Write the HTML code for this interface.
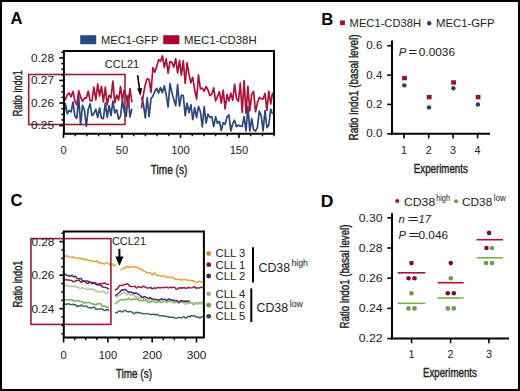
<!DOCTYPE html>
<html><head><meta charset="utf-8"><style>
html,body{margin:0;padding:0;background:#fff;}
svg{display:block;}
text{font-family:"Liberation Sans", sans-serif;}
</style></head><body>
<svg width="520" height="391" viewBox="0 0 520 391">
<rect width="520" height="391" fill="#fff"/>
<text x="10.4" y="23.5" font-size="16.2" font-weight="bold" textLength="12" lengthAdjust="spacingAndGlyphs" fill="#000">A</text>
<rect x="80.2" y="35.2" width="16" height="9" fill="#2b4a80"/>
<text x="101" y="43.7" font-size="11.2" textLength="57.5" lengthAdjust="spacingAndGlyphs" fill="#222">MEC1-GFP</text>
<rect x="163.2" y="35.2" width="16.2" height="9" fill="#a8082f"/>
<text x="184" y="43.7" font-size="11.2" textLength="72.6" lengthAdjust="spacingAndGlyphs" fill="#222">MEC1-CD38H</text>
<rect x="28.7" y="74.5" width="96.3" height="50" fill="none" stroke="#9e1b36" stroke-width="1.6"/>
<polyline points="63.5,117.3 65.4,103.7 67.3,113.9 69.2,110.4 71.1,111.9 73.0,102.0 74.9,116.3 76.8,118.4 78.7,96.6 80.6,124.7 82.5,105.4 84.4,109.7 86.3,126.5 88.2,109.2 90.1,103.9 92.0,115.7 93.9,113.4 95.8,109.1 97.7,117.5 99.6,108.0 101.5,118.1 103.4,118.6 105.3,103.2 107.2,117.3 109.1,105.5 111.0,115.7 112.9,101.2 114.8,112.8 116.7,109.8 118.6,119.2 120.5,116.3 122.4,100.1 124.3,112.0 126.2,116.4 128.1,95.4 130.0,116.9 131.9,108.8" fill="none" stroke="#2c4678" stroke-width="1.7" stroke-linejoin="round"/>
<polyline points="63.5,97.5 65.4,99.5 67.3,94.7 69.2,93.0 71.1,96.8 73.0,91.3 74.9,101.1 76.8,104.8 78.7,90.7 80.6,96.9 82.5,101.3 84.4,98.2 86.3,98.1 88.2,91.2 90.1,100.7 92.0,100.9 93.9,87.1 95.8,100.0 97.7,83.9 99.6,96.0 101.5,86.3 103.4,102.0 105.3,87.2 107.2,104.9 109.1,95.3 111.0,97.8 112.9,81.0 114.8,102.7 116.7,95.1 118.6,100.0 120.5,86.6 122.4,100.4 124.3,90.1 126.2,96.4 128.1,105.8 130.0,88.6 131.9,102.4" fill="none" stroke="#aa123a" stroke-width="1.7" stroke-linejoin="round"/>
<polyline points="141.5,96.6 143.4,104.2 145.3,118.0 147.2,97.8 149.1,116.6 151.0,98.9 152.9,96.0 154.8,91.5 156.7,88.3 158.6,93.1 160.5,87.5 162.4,92.8 164.3,85.8 166.2,94.7 168.1,107.0 170.0,83.7 171.9,92.7 173.8,99.5 175.7,105.7 177.6,84.7 179.5,106.2 181.4,95.2 183.3,95.6 185.2,115.7 187.1,103.2 189.0,112.7 190.9,104.7 192.8,119.6 194.7,107.7 196.6,117.7 198.5,106.4 200.4,111.6 202.3,127.0 204.2,106.7 206.1,123.2 208.0,114.1 209.9,117.4 211.8,116.8 213.7,126.6 215.6,116.8 217.5,123.5 219.4,121.4 221.3,130.5 223.2,122.5 225.1,124.4 227.0,116.9 228.9,114.9 230.8,131.0 232.7,123.7 234.6,120.2 236.5,126.7 238.4,125.1 240.3,126.2 242.2,126.3 244.1,116.7 246.0,131.0 247.9,106.7 249.8,131.0 251.7,118.6 253.6,129.8 255.5,131.0 257.4,127.7 259.3,111.1 261.2,115.7 263.1,130.9 265.0,110.5 266.9,127.7 268.8,125.0 270.7,109.0 272.6,113.8" fill="none" stroke="#2c4678" stroke-width="1.7" stroke-linejoin="round"/>
<polyline points="141.5,108.4 143.4,94.3 145.3,84.7 147.2,78.7 149.1,79.3 151.0,92.5 152.9,67.5 154.8,72.1 156.7,66.6 158.6,59.6 160.5,61.4 162.4,55.8 164.3,67.4 166.2,58.8 168.1,73.1 170.0,61.6 171.9,62.4 173.8,67.1 175.7,58.7 177.6,72.9 179.5,60.3 181.4,75.1 183.3,60.7 185.2,83.5 187.1,62.7 189.0,74.1 190.9,82.8 192.8,77.3 194.7,90.1 196.6,99.2 198.5,74.8 200.4,89.0 202.3,88.1 204.2,91.2 206.1,86.3 208.0,90.0 209.9,95.7 211.8,94.2 213.7,87.8 215.6,100.8 217.5,96.7 219.4,91.7 221.3,103.1 223.2,90.0 225.1,109.0 227.0,94.4 228.9,101.1 230.8,93.2 232.7,100.4 234.6,84.3 236.5,98.3 238.4,101.4 240.3,83.2 242.2,112.4 244.1,80.5 246.0,113.4 247.9,86.3 249.8,110.8 251.7,94.3 253.6,91.5 255.5,111.7 257.4,103.0 259.3,97.3 261.2,98.8 263.1,98.9 265.0,93.5 266.9,110.3 268.8,91.0 270.7,104.0 272.6,92.6" fill="none" stroke="#aa123a" stroke-width="1.7" stroke-linejoin="round"/>
<path d="M63.9,51 H274 V133.8 H63.9 Z" fill="none" stroke="#000" stroke-width="2"/>
<line x1="59.3" y1="57.9" x2="63.5" y2="57.9" stroke="#000" stroke-width="1.6"/>
<text x="54" y="61.699999999999996" font-size="11.3" text-anchor="end" textLength="23" lengthAdjust="spacingAndGlyphs" fill="#222">0.28</text>
<line x1="59.3" y1="80.47000000000003" x2="63.5" y2="80.47000000000003" stroke="#000" stroke-width="1.6"/>
<text x="54" y="84.27000000000002" font-size="11.3" text-anchor="end" textLength="23" lengthAdjust="spacingAndGlyphs" fill="#222">0.27</text>
<line x1="59.3" y1="103.04000000000005" x2="63.5" y2="103.04000000000005" stroke="#000" stroke-width="1.6"/>
<text x="54" y="106.84000000000005" font-size="11.3" text-anchor="end" textLength="23" lengthAdjust="spacingAndGlyphs" fill="#222">0.26</text>
<line x1="59.3" y1="125.61000000000007" x2="63.5" y2="125.61000000000007" stroke="#000" stroke-width="1.6"/>
<text x="54" y="129.41000000000008" font-size="11.3" text-anchor="end" textLength="23" lengthAdjust="spacingAndGlyphs" fill="#222">0.25</text>
<line x1="61.3" y1="63.542500000000004" x2="63.5" y2="63.542500000000004" stroke="#000" stroke-width="1.4"/>
<line x1="61.3" y1="69.185" x2="63.5" y2="69.185" stroke="#000" stroke-width="1.4"/>
<line x1="61.3" y1="74.82750000000001" x2="63.5" y2="74.82750000000001" stroke="#000" stroke-width="1.4"/>
<line x1="61.3" y1="86.11250000000003" x2="63.5" y2="86.11250000000003" stroke="#000" stroke-width="1.4"/>
<line x1="61.3" y1="91.75500000000002" x2="63.5" y2="91.75500000000002" stroke="#000" stroke-width="1.4"/>
<line x1="61.3" y1="97.39750000000004" x2="63.5" y2="97.39750000000004" stroke="#000" stroke-width="1.4"/>
<line x1="61.3" y1="108.68250000000003" x2="63.5" y2="108.68250000000003" stroke="#000" stroke-width="1.4"/>
<line x1="61.3" y1="114.32500000000005" x2="63.5" y2="114.32500000000005" stroke="#000" stroke-width="1.4"/>
<line x1="61.3" y1="119.96750000000006" x2="63.5" y2="119.96750000000006" stroke="#000" stroke-width="1.4"/>
<line x1="61.3" y1="52.25750000000012" x2="63.5" y2="52.25750000000012" stroke="#000" stroke-width="1.4"/>
<line x1="63.5" y1="133.8" x2="63.5" y2="138" stroke="#000" stroke-width="1.6"/>
<line x1="75.2" y1="133.8" x2="75.2" y2="136.3" stroke="#000" stroke-width="1.4"/>
<line x1="86.9" y1="133.8" x2="86.9" y2="136.3" stroke="#000" stroke-width="1.4"/>
<line x1="98.6" y1="133.8" x2="98.6" y2="136.3" stroke="#000" stroke-width="1.4"/>
<line x1="110.3" y1="133.8" x2="110.3" y2="136.3" stroke="#000" stroke-width="1.4"/>
<line x1="122.0" y1="133.8" x2="122.0" y2="138" stroke="#000" stroke-width="1.6"/>
<line x1="133.7" y1="133.8" x2="133.7" y2="136.3" stroke="#000" stroke-width="1.4"/>
<line x1="145.39999999999998" y1="133.8" x2="145.39999999999998" y2="136.3" stroke="#000" stroke-width="1.4"/>
<line x1="157.1" y1="133.8" x2="157.1" y2="136.3" stroke="#000" stroke-width="1.4"/>
<line x1="168.8" y1="133.8" x2="168.8" y2="136.3" stroke="#000" stroke-width="1.4"/>
<line x1="180.5" y1="133.8" x2="180.5" y2="138" stroke="#000" stroke-width="1.6"/>
<line x1="192.2" y1="133.8" x2="192.2" y2="136.3" stroke="#000" stroke-width="1.4"/>
<line x1="203.89999999999998" y1="133.8" x2="203.89999999999998" y2="136.3" stroke="#000" stroke-width="1.4"/>
<line x1="215.6" y1="133.8" x2="215.6" y2="136.3" stroke="#000" stroke-width="1.4"/>
<line x1="227.29999999999998" y1="133.8" x2="227.29999999999998" y2="136.3" stroke="#000" stroke-width="1.4"/>
<line x1="239.0" y1="133.8" x2="239.0" y2="138" stroke="#000" stroke-width="1.6"/>
<line x1="250.7" y1="133.8" x2="250.7" y2="136.3" stroke="#000" stroke-width="1.4"/>
<line x1="262.4" y1="133.8" x2="262.4" y2="136.3" stroke="#000" stroke-width="1.4"/>
<line x1="274.1" y1="133.8" x2="274.1" y2="136.3" stroke="#000" stroke-width="1.4"/>
<text x="63.5" y="153.7" font-size="11.3" text-anchor="middle" textLength="6.2" lengthAdjust="spacingAndGlyphs" fill="#222">0</text>
<text x="122.0" y="153.7" font-size="11.3" text-anchor="middle" textLength="12.4" lengthAdjust="spacingAndGlyphs" fill="#222">50</text>
<text x="180.5" y="153.7" font-size="11.3" text-anchor="middle" textLength="18.7" lengthAdjust="spacingAndGlyphs" fill="#222">100</text>
<text x="239.0" y="153.7" font-size="11.3" text-anchor="middle" textLength="18.7" lengthAdjust="spacingAndGlyphs" fill="#222">150</text>
<text x="150.8" y="173.7" font-size="13.5" textLength="36.5" lengthAdjust="spacingAndGlyphs" fill="#222" stroke="#222" stroke-width="0.4">Time (s)</text>
<text transform="translate(22.4,93.3) rotate(-90)" x="0" y="0" font-size="12.4" text-anchor="middle" textLength="46" lengthAdjust="spacingAndGlyphs" fill="#222" stroke="#222" stroke-width="0.4">Ratio indo1</text>
<text x="104.8" y="67.9" font-size="11" textLength="34.4" lengthAdjust="spacingAndGlyphs" fill="#222">CCL21</text>
<line x1="137.6" y1="75.2" x2="139.6" y2="89.5" stroke="#000" stroke-width="1.6"/>
<path d="M137.2,88.6 L142.3,88.0 L140.4,96 Z" fill="#000"/>
<text x="321.2" y="24.6" font-size="16.8" font-weight="bold" textLength="12" lengthAdjust="spacingAndGlyphs" fill="#000">B</text>
<rect x="340.1" y="20.4" width="4.8" height="4.8" fill="#9a0c30"/>
<text x="349.6" y="26.5" font-size="10.6" textLength="71.4" lengthAdjust="spacingAndGlyphs" fill="#222">MEC1-CD38H</text>
<circle cx="429.2" cy="23.3" r="2.2" fill="#2c3d62"/>
<text x="436" y="26.5" font-size="10.6" textLength="58.6" lengthAdjust="spacingAndGlyphs" fill="#222">MEC1-GFP</text>
<line x1="392" y1="40.6" x2="392" y2="134.8" stroke="#000" stroke-width="2"/>
<line x1="391" y1="133.8" x2="490" y2="133.8" stroke="#000" stroke-width="2"/>
<line x1="387.2" y1="45.750000000000014" x2="392" y2="45.750000000000014" stroke="#000" stroke-width="1.6"/>
<text x="382.3" y="49.350000000000016" font-size="10.6" text-anchor="end" textLength="16" lengthAdjust="spacingAndGlyphs" fill="#222">0.6</text>
<line x1="387.2" y1="75.10000000000001" x2="392" y2="75.10000000000001" stroke="#000" stroke-width="1.6"/>
<text x="382.3" y="78.7" font-size="10.6" text-anchor="end" textLength="16" lengthAdjust="spacingAndGlyphs" fill="#222">0.4</text>
<line x1="387.2" y1="104.45000000000002" x2="392" y2="104.45000000000002" stroke="#000" stroke-width="1.6"/>
<text x="382.3" y="108.05000000000001" font-size="10.6" text-anchor="end" textLength="16" lengthAdjust="spacingAndGlyphs" fill="#222">0.2</text>
<line x1="387.2" y1="133.8" x2="392" y2="133.8" stroke="#000" stroke-width="1.6"/>
<text x="382.3" y="137.4" font-size="10.6" text-anchor="end" textLength="16" lengthAdjust="spacingAndGlyphs" fill="#222">0.0</text>
<line x1="404" y1="133.8" x2="404" y2="138.4" stroke="#000" stroke-width="1.6"/>
<text x="404" y="153.7" font-size="11" text-anchor="middle" textLength="6" lengthAdjust="spacingAndGlyphs" fill="#222">1</text>
<line x1="428.7" y1="133.8" x2="428.7" y2="138.4" stroke="#000" stroke-width="1.6"/>
<text x="428.7" y="153.7" font-size="11" text-anchor="middle" textLength="6" lengthAdjust="spacingAndGlyphs" fill="#222">2</text>
<line x1="453.1" y1="133.8" x2="453.1" y2="138.4" stroke="#000" stroke-width="1.6"/>
<text x="453.1" y="153.7" font-size="11" text-anchor="middle" textLength="6" lengthAdjust="spacingAndGlyphs" fill="#222">3</text>
<line x1="477.6" y1="133.8" x2="477.6" y2="138.4" stroke="#000" stroke-width="1.6"/>
<text x="477.6" y="153.7" font-size="11" text-anchor="middle" textLength="6" lengthAdjust="spacingAndGlyphs" fill="#222">4</text>
<text x="413.8" y="172.9" font-size="12.6" textLength="54" lengthAdjust="spacingAndGlyphs" fill="#222" stroke="#222" stroke-width="0.4">Experiments</text>
<text transform="translate(357.9,87.5) rotate(-90)" x="0" y="0" font-size="12.4" text-anchor="middle" textLength="106" lengthAdjust="spacingAndGlyphs" fill="#222" stroke="#222" stroke-width="0.4">Ratio indo1 (basal level)</text>
<text x="398.8" y="55.8" font-size="11.4" fill="#222"><tspan font-style="italic">P</tspan><tspan x="408.5" textLength="8.6" lengthAdjust="spacingAndGlyphs">=</tspan><tspan x="418.8" textLength="36.2" lengthAdjust="spacingAndGlyphs">0.0036</tspan></text>
<rect x="402.1" y="75.83500000000001" width="4.8" height="4.4" fill="#9a0c30"/>
<circle cx="404.3" cy="85.3725" r="2.2" fill="#2c3d62"/>
<rect x="426.8" y="94.91250000000001" width="4.8" height="4.4" fill="#9a0c30"/>
<circle cx="429.0" cy="107.38500000000002" r="2.2" fill="#2c3d62"/>
<rect x="451.20000000000005" y="80.23750000000001" width="4.8" height="4.4" fill="#9a0c30"/>
<circle cx="453.40000000000003" cy="88.3075" r="2.2" fill="#2c3d62"/>
<rect x="475.70000000000005" y="94.91250000000001" width="4.8" height="4.4" fill="#9a0c30"/>
<circle cx="477.90000000000003" cy="104.45000000000002" r="2.2" fill="#2c3d62"/>
<text x="10.6" y="206.2" font-size="16.2" font-weight="bold" textLength="12" lengthAdjust="spacingAndGlyphs" fill="#000">C</text>
<polyline points="64.0,299.8 65.0,300.0 66.0,299.9 67.0,300.0 68.0,299.9 69.0,299.3 70.0,299.7 71.0,300.1 72.0,299.6 73.0,300.4 74.0,301.1 75.0,301.2 76.0,301.0 77.0,300.6 78.0,300.8 79.0,300.8 80.0,301.4 81.0,301.6 82.0,301.8 83.0,302.4 84.0,303.2 85.0,302.6 86.0,302.3 87.0,302.9 88.0,302.8 89.0,302.4 90.0,302.4 91.0,303.6 92.0,304.0 93.0,303.9 94.0,304.0 95.0,304.7 96.0,305.0 97.0,303.8 98.0,303.8 99.0,304.1 100.0,303.2 101.0,304.1 102.0,306.2 103.0,306.7 104.0,305.8 105.0,305.6 106.0,306.8 107.0,307.5 108.0,307.3 109.0,307.4" fill="none" stroke="#72b050" stroke-width="1.45" stroke-linejoin="round"/>
<polyline points="64.0,303.5 65.0,304.0 66.0,304.4 67.0,304.3 68.0,303.7 69.0,304.0 70.0,304.3 71.0,304.7 72.0,304.6 73.0,304.2 74.0,304.9 75.0,304.5 76.0,305.4 77.0,306.7 78.0,305.9 79.0,305.8 80.0,306.3 81.0,305.0 82.0,305.1 83.0,306.3 84.0,306.4 85.0,306.1 86.0,306.1 87.0,306.6 88.0,307.4 89.0,307.8 90.0,307.4 91.0,308.1 92.0,308.0 93.0,307.4 94.0,307.0 95.0,308.0 96.0,309.3 97.0,309.2 98.0,309.2 99.0,309.0 100.0,309.0 101.0,309.0 102.0,309.0 103.0,309.3 104.0,310.2 105.0,310.5 106.0,310.0 107.0,309.7 108.0,309.6 109.0,310.7" fill="none" stroke="#3a6450" stroke-width="1.45" stroke-linejoin="round"/>
<polyline points="64.0,285.5 65.0,285.7 66.0,285.5 67.0,285.1 68.0,285.4 69.0,286.4 70.0,286.4 71.0,286.1 72.0,286.3 73.0,286.6 74.0,286.2 75.0,286.2 76.0,286.7 77.0,287.3 78.0,287.5 79.0,287.5 80.0,288.6 81.0,288.4 82.0,287.7 83.0,288.0 84.0,288.4 85.0,288.1 86.0,288.4 87.0,289.9 88.0,289.7 89.0,289.0 90.0,288.8 91.0,289.3 92.0,289.4 93.0,288.9 94.0,290.2 95.0,290.5 96.0,290.6 97.0,291.8 98.0,291.7 99.0,291.4 100.0,292.3 101.0,292.2 102.0,291.3 103.0,291.0 104.0,291.5 105.0,292.9 106.0,293.5 107.0,292.6 108.0,292.0 109.0,292.4" fill="none" stroke="#b9bfa0" stroke-width="1.45" stroke-linejoin="round"/>
<polyline points="64.0,279.6 65.0,279.7 66.0,279.8 67.0,280.1 68.0,280.0 69.0,280.0 70.0,280.3 71.0,280.4 72.0,280.7 73.0,281.6 74.0,281.8 75.0,281.2 76.0,280.3 77.0,280.6 78.0,280.6 79.0,280.0 80.0,281.3 81.0,282.3 82.0,282.0 83.0,281.1 84.0,281.1 85.0,281.7 86.0,282.3 87.0,283.6 88.0,283.5 89.0,282.3 90.0,281.8 91.0,282.2 92.0,282.7 93.0,282.4 94.0,282.6 95.0,282.7 96.0,283.2 97.0,284.2 98.0,284.3 99.0,283.7 100.0,283.5 101.0,283.8 102.0,283.5 103.0,283.5 104.0,283.2 105.0,282.8 106.0,283.8 107.0,284.4 108.0,284.2 109.0,284.8" fill="none" stroke="#9a1840" stroke-width="1.45" stroke-linejoin="round"/>
<polyline points="64.0,274.1 65.0,273.9 66.0,274.9 67.0,275.6 68.0,275.5 69.0,275.9 70.0,276.4 71.0,275.6 72.0,275.3 73.0,276.3 74.0,277.1 75.0,276.1 76.0,276.9 77.0,278.3 78.0,278.7 79.0,278.7 80.0,278.4 81.0,278.5 82.0,280.1 83.0,280.9 84.0,280.9 85.0,281.1 86.0,280.9 87.0,280.9 88.0,281.0 89.0,282.4 90.0,282.4 91.0,282.8 92.0,283.8 93.0,283.3 94.0,283.3 95.0,283.9 96.0,284.4 97.0,284.7 98.0,284.7 99.0,285.2 100.0,285.4 101.0,285.4 102.0,286.1 103.0,287.4 104.0,287.1 105.0,287.1 106.0,287.8 107.0,287.7 108.0,288.7 109.0,289.2" fill="none" stroke="#4a2a66" stroke-width="1.45" stroke-linejoin="round"/>
<polyline points="64.0,256.2 65.0,256.1 66.0,255.9 67.0,256.3 68.0,256.0 69.0,256.6 70.0,257.0 71.0,257.3 72.0,257.5 73.0,257.0 74.0,257.2 75.0,257.9 76.0,258.5 77.0,258.3 78.0,258.1 79.0,258.0 80.0,258.5 81.0,259.0 82.0,258.1 83.0,258.8 84.0,260.2 85.0,259.8 86.0,259.1 87.0,259.6 88.0,259.8 89.0,260.4 90.0,260.7 91.0,260.4 92.0,261.2 93.0,261.4 94.0,261.5 95.0,261.6 96.0,261.0 97.0,260.8 98.0,262.3 99.0,263.1 100.0,262.6 101.0,262.9 102.0,263.0 103.0,263.3 104.0,264.2 105.0,263.9 106.0,262.6 107.0,262.8 108.0,263.0 109.0,264.0 110.0,265.1 111.0,264.6 112.0,263.9 113.0,264.4 114.0,265.9 115.0,265.1 116.0,265.0" fill="none" stroke="#e0a040" stroke-width="1.45" stroke-linejoin="round"/>
<polyline points="115.0,312.6 116.0,312.8 117.0,312.5 118.0,311.7 119.0,311.3 120.0,310.7 121.0,311.6 122.0,312.1 123.0,311.5 124.0,310.9 125.0,310.3 126.0,310.6 127.0,311.5 128.0,311.8 129.0,311.8 130.0,311.5 131.0,311.6 132.0,312.2 133.0,312.9 134.0,313.8 135.0,313.3 136.0,312.3 137.0,312.5 138.0,312.7 139.0,312.5 140.0,312.9 141.0,312.9 142.0,313.3 143.0,313.8 144.0,313.8 145.0,313.9 146.0,313.6 147.0,313.4 148.0,313.8 149.0,314.1 150.0,314.4 151.0,314.7 152.0,314.2 153.0,314.4 154.0,314.5 155.0,314.3 156.0,314.9 157.0,314.4 158.0,314.7 159.0,315.8 160.0,315.8 161.0,315.7 162.0,315.8 163.0,315.7 164.0,315.9 165.0,316.2 166.0,316.5 167.0,316.4 168.0,316.6 169.0,317.3 170.0,317.3 171.0,317.2 172.0,317.6 173.0,317.2 174.0,317.3 175.0,318.3 176.0,318.1 177.0,318.1 178.0,317.6 179.0,317.3 180.0,317.7 181.0,317.9 182.0,317.7 183.0,316.8 184.0,316.8 185.0,317.9 186.0,318.0 187.0,317.5 188.0,316.3 189.0,316.5 190.0,317.0 191.0,315.6 192.0,315.8 193.0,316.2 194.0,315.5 195.0,315.9 196.0,317.0 197.0,317.1 198.0,316.7 199.0,317.6 200.0,318.1 201.0,317.3 202.0,316.6 203.0,316.1" fill="none" stroke="#3a6450" stroke-width="1.45" stroke-linejoin="round"/>
<polyline points="115.0,303.9 116.0,303.1 117.0,302.5 118.0,301.4 119.0,300.7 120.0,300.1 121.0,299.5 122.0,299.9 123.0,300.0 124.0,300.0 125.0,299.7 126.0,299.2 127.0,299.3 128.0,299.1 129.0,298.3 130.0,299.1 131.0,299.8 132.0,299.8 133.0,299.2 134.0,299.0 135.0,299.5 136.0,299.4 137.0,298.8 138.0,299.1 139.0,300.5 140.0,300.9 141.0,300.4 142.0,300.3 143.0,300.9 144.0,299.8 145.0,299.6 146.0,301.0 147.0,301.5 148.0,302.0 149.0,302.3 150.0,301.8 151.0,301.5 152.0,301.7 153.0,301.4 154.0,301.1 155.0,301.8 156.0,302.7 157.0,302.2 158.0,301.4 159.0,301.6 160.0,302.3 161.0,302.2 162.0,302.3 163.0,301.9 164.0,301.3 165.0,301.6 166.0,302.1 167.0,302.7 168.0,301.7 169.0,300.9 170.0,301.8 171.0,301.9 172.0,301.2 173.0,301.9 174.0,302.8 175.0,302.6 176.0,302.2 177.0,302.5 178.0,302.7 179.0,302.7 180.0,302.5 181.0,301.7 182.0,302.2 183.0,302.3 184.0,302.5 185.0,302.9 186.0,302.3 187.0,302.2 188.0,302.5 189.0,302.9 190.0,302.8 191.0,302.2 192.0,303.0 193.0,304.2 194.0,304.6 195.0,303.7 196.0,302.9 197.0,303.6 198.0,303.5 199.0,302.4 200.0,302.6 201.0,303.2 202.0,302.8 203.0,301.9" fill="none" stroke="#72b050" stroke-width="1.45" stroke-linejoin="round"/>
<polyline points="115.0,297.4 116.0,297.0 117.0,296.7 118.0,295.7 119.0,295.5 120.0,295.2 121.0,294.3 122.0,293.6 123.0,292.7 124.0,292.6 125.0,292.8 126.0,293.7 127.0,294.4 128.0,293.9 129.0,294.0 130.0,294.5 131.0,295.2 132.0,294.9 133.0,294.4 134.0,295.2 135.0,296.9 136.0,297.8 137.0,296.9 138.0,297.0 139.0,298.2 140.0,298.0 141.0,297.2 142.0,298.1 143.0,298.7 144.0,298.7 145.0,298.5 146.0,299.3 147.0,300.5 148.0,300.2 149.0,300.0 150.0,299.1 151.0,299.2 152.0,300.1 153.0,300.1 154.0,300.5 155.0,300.3 156.0,299.4 157.0,299.8 158.0,300.3 159.0,300.1 160.0,300.2 161.0,300.3 162.0,299.7 163.0,300.4 164.0,301.6 165.0,301.6 166.0,302.5 167.0,302.1 168.0,300.6 169.0,300.3 170.0,300.6 171.0,300.9 172.0,301.5 173.0,301.0 174.0,301.2 175.0,301.5 176.0,301.5 177.0,302.2 178.0,302.0 179.0,302.1 180.0,302.1 181.0,302.0 182.0,301.5 183.0,301.8 184.0,303.4 185.0,304.3 186.0,304.1 187.0,303.6 188.0,302.8 189.0,303.2 190.0,303.5 191.0,302.9 192.0,302.8 193.0,302.9 194.0,302.9 195.0,302.9 196.0,302.7 197.0,302.6 198.0,304.1 199.0,304.2 200.0,303.2 201.0,303.5 202.0,304.0 203.0,303.3" fill="none" stroke="#b9bfa0" stroke-width="1.45" stroke-linejoin="round"/>
<polyline points="115.0,295.6 116.0,295.2 117.0,294.6 118.0,293.4 119.0,293.1 120.0,292.0 121.0,290.6 122.0,289.8 123.0,290.0 124.0,289.8 125.0,289.2 126.0,290.1 127.0,291.0 128.0,291.8 129.0,292.5 130.0,291.9 131.0,291.9 132.0,292.8 133.0,292.6 134.0,293.3 135.0,293.6 136.0,292.9 137.0,293.5 138.0,294.2 139.0,294.4 140.0,295.6 141.0,296.4 142.0,297.3 143.0,297.5 144.0,296.6 145.0,296.7 146.0,297.4 147.0,297.6 148.0,298.2 149.0,298.5 150.0,297.6 151.0,298.2 152.0,299.1 153.0,299.0 154.0,299.2 155.0,299.3 156.0,299.4 157.0,299.7 158.0,299.9 159.0,299.6 160.0,299.7 161.0,299.0 162.0,298.8 163.0,299.4 164.0,299.6 165.0,299.2 166.0,299.9 167.0,300.6 168.0,299.5 169.0,298.8 170.0,299.3 171.0,300.1 172.0,300.0 173.0,300.1 174.0,300.3 175.0,300.5 176.0,300.6 177.0,300.4 178.0,301.2 179.0,302.4 180.0,301.7 181.0,300.5 182.0,300.6 183.0,301.3 184.0,301.2 185.0,300.8 186.0,301.3 187.0,301.2 188.0,300.9 189.0,301.2 190.0,300.8" fill="none" stroke="#4a2a66" stroke-width="1.45" stroke-linejoin="round"/>
<polyline points="115.0,290.4 116.0,289.3 117.0,289.0 118.0,288.1 119.0,286.4 120.0,285.3 121.0,285.4 122.0,285.7 123.0,285.2 124.0,284.4 125.0,284.5 126.0,284.5 127.0,283.6 128.0,283.9 129.0,285.4 130.0,286.2 131.0,286.5 132.0,286.6 133.0,286.6 134.0,286.6 135.0,286.2 136.0,287.6 137.0,288.0 138.0,286.8 139.0,286.6 140.0,287.0 141.0,287.6 142.0,287.3 143.0,286.1 144.0,286.3 145.0,287.1 146.0,287.4 147.0,288.0 148.0,288.1 149.0,288.0 150.0,287.5 151.0,287.5 152.0,288.9 153.0,288.8 154.0,288.0 155.0,287.8 156.0,288.4 157.0,288.0 158.0,287.2 159.0,287.7 160.0,288.1 161.0,287.7 162.0,287.5 163.0,287.6 164.0,287.5 165.0,287.6 166.0,287.1 167.0,287.1 168.0,288.0 169.0,287.6 170.0,287.1 171.0,287.8 172.0,287.4 173.0,287.2 174.0,287.2 175.0,287.6 176.0,289.1 177.0,289.4 178.0,288.4 179.0,287.8 180.0,288.0 181.0,287.7 182.0,288.3 183.0,287.7 184.0,287.5 185.0,288.0 186.0,288.2 187.0,288.3 188.0,287.4 189.0,287.4 190.0,288.0 191.0,287.9 192.0,287.8 193.0,287.6 194.0,286.5 195.0,287.1 196.0,288.3 197.0,288.0 198.0,287.7 199.0,288.1 200.0,287.8 201.0,287.1 202.0,287.2 203.0,288.0" fill="none" stroke="#9a1840" stroke-width="1.45" stroke-linejoin="round"/>
<polyline points="120.5,269.4 121.5,269.5 122.5,269.3 123.5,267.9 124.5,268.2 125.5,268.2 126.5,266.6 127.5,266.3 128.5,267.2 129.5,267.8 130.5,267.1 131.5,266.7 132.5,267.2 133.5,266.7 134.5,266.7 135.5,267.3 136.5,267.3 137.5,267.5 138.5,268.2 139.5,268.8 140.5,268.9 141.5,269.1 142.5,270.2 143.5,270.9 144.5,271.2 145.5,272.0 146.5,272.3 147.5,273.1 148.5,272.9 149.5,272.7 150.5,273.2 151.5,274.0 152.5,275.1 153.5,273.7 154.5,272.9 155.5,274.3 156.5,275.3 157.5,275.6 158.5,275.5 159.5,275.6 160.5,276.2 161.5,276.2 162.5,276.5 163.5,275.8 164.5,275.9 165.5,276.6 166.5,277.0 167.5,277.5 168.5,276.9 169.5,277.4 170.5,277.6 171.5,277.3 172.5,277.2 173.5,277.8 174.5,278.9 175.5,279.5 176.5,279.3 177.5,279.5 178.5,279.6 179.5,279.2 180.5,279.6 181.5,280.2 182.5,279.9 183.5,279.5 184.5,279.6 185.5,279.9 186.5,279.7 187.5,280.2 188.5,280.5 189.5,280.4 190.5,280.3 191.5,280.4 192.5,281.0 193.5,280.8 194.5,281.6 195.5,282.1 196.5,282.1 197.5,282.5 198.5,281.6 199.5,281.1 200.5,281.7 201.5,282.0 202.5,282.0" fill="none" stroke="#e0a040" stroke-width="1.45" stroke-linejoin="round"/>
<rect x="31" y="238.6" width="79.9" height="85.8" fill="none" stroke="#9e1b36" stroke-width="1.6"/>
<path d="M63.8,231.6 H203.9 V337.6 H63.8 Z" fill="none" stroke="#000" stroke-width="2"/>
<line x1="59.4" y1="241.6" x2="63.8" y2="241.6" stroke="#000" stroke-width="1.6"/>
<text x="54.4" y="245.79999999999998" font-size="10.8" text-anchor="end" textLength="23" lengthAdjust="spacingAndGlyphs" fill="#222">0.28</text>
<line x1="59.4" y1="275.15000000000003" x2="63.8" y2="275.15000000000003" stroke="#000" stroke-width="1.6"/>
<text x="54.4" y="279.35" font-size="10.8" text-anchor="end" textLength="23" lengthAdjust="spacingAndGlyphs" fill="#222">0.26</text>
<line x1="59.4" y1="308.70000000000005" x2="63.8" y2="308.70000000000005" stroke="#000" stroke-width="1.6"/>
<text x="54.4" y="312.90000000000003" font-size="10.8" text-anchor="end" textLength="23" lengthAdjust="spacingAndGlyphs" fill="#222">0.24</text>
<line x1="61.3" y1="233.21249999999998" x2="63.8" y2="233.21249999999998" stroke="#000" stroke-width="1.4"/>
<line x1="61.3" y1="249.9875" x2="63.8" y2="249.9875" stroke="#000" stroke-width="1.4"/>
<line x1="61.3" y1="258.375" x2="63.8" y2="258.375" stroke="#000" stroke-width="1.4"/>
<line x1="61.3" y1="266.7625" x2="63.8" y2="266.7625" stroke="#000" stroke-width="1.4"/>
<line x1="61.3" y1="283.5375" x2="63.8" y2="283.5375" stroke="#000" stroke-width="1.4"/>
<line x1="61.3" y1="291.925" x2="63.8" y2="291.925" stroke="#000" stroke-width="1.4"/>
<line x1="61.3" y1="300.3125" x2="63.8" y2="300.3125" stroke="#000" stroke-width="1.4"/>
<line x1="61.3" y1="317.0875" x2="63.8" y2="317.0875" stroke="#000" stroke-width="1.4"/>
<line x1="61.3" y1="325.47499999999997" x2="63.8" y2="325.47499999999997" stroke="#000" stroke-width="1.4"/>
<line x1="61.3" y1="333.86249999999995" x2="63.8" y2="333.86249999999995" stroke="#000" stroke-width="1.4"/>
<line x1="63.6" y1="337.6" x2="63.6" y2="342.5" stroke="#000" stroke-width="1.6"/>
<line x1="74.675" y1="337.6" x2="74.675" y2="340.2" stroke="#000" stroke-width="1.4"/>
<line x1="85.75" y1="337.6" x2="85.75" y2="340.2" stroke="#000" stroke-width="1.4"/>
<line x1="96.825" y1="337.6" x2="96.825" y2="340.2" stroke="#000" stroke-width="1.4"/>
<line x1="107.9" y1="337.6" x2="107.9" y2="342.5" stroke="#000" stroke-width="1.6"/>
<line x1="118.975" y1="337.6" x2="118.975" y2="340.2" stroke="#000" stroke-width="1.4"/>
<line x1="130.05" y1="337.6" x2="130.05" y2="340.2" stroke="#000" stroke-width="1.4"/>
<line x1="141.125" y1="337.6" x2="141.125" y2="340.2" stroke="#000" stroke-width="1.4"/>
<line x1="152.2" y1="337.6" x2="152.2" y2="342.5" stroke="#000" stroke-width="1.6"/>
<line x1="163.275" y1="337.6" x2="163.275" y2="340.2" stroke="#000" stroke-width="1.4"/>
<line x1="174.35" y1="337.6" x2="174.35" y2="340.2" stroke="#000" stroke-width="1.4"/>
<line x1="185.425" y1="337.6" x2="185.425" y2="340.2" stroke="#000" stroke-width="1.4"/>
<line x1="196.5" y1="337.6" x2="196.5" y2="342.5" stroke="#000" stroke-width="1.6"/>
<text x="63.6" y="358.7" font-size="11.2" text-anchor="middle" textLength="6.2" lengthAdjust="spacingAndGlyphs" fill="#222">0</text>
<text x="107.9" y="358.7" font-size="11.2" text-anchor="middle" textLength="18.4" lengthAdjust="spacingAndGlyphs" fill="#222">100</text>
<text x="152.2" y="358.7" font-size="11.2" text-anchor="middle" textLength="19.7" lengthAdjust="spacingAndGlyphs" fill="#222">200</text>
<text x="196.5" y="358.7" font-size="11.2" text-anchor="middle" textLength="19.7" lengthAdjust="spacingAndGlyphs" fill="#222">300</text>
<text x="115.7" y="377.6" font-size="13.3" textLength="36.3" lengthAdjust="spacingAndGlyphs" fill="#222" stroke="#222" stroke-width="0.4">Time (s)</text>
<text transform="translate(22.4,284) rotate(-90)" x="0" y="0" font-size="12.4" text-anchor="middle" textLength="47" lengthAdjust="spacingAndGlyphs" fill="#222" stroke="#222" stroke-width="0.4">Ratio indo1</text>
<text x="111.9" y="244.7" font-size="11" textLength="34.1" lengthAdjust="spacingAndGlyphs" fill="#222">CCL21</text>
<line x1="119.4" y1="248.8" x2="119.4" y2="258" stroke="#000" stroke-width="2"/>
<path d="M115.4,256.6 L123.5,256.6 L119.4,266 Z" fill="#000"/>
<circle cx="208.7" cy="253.5" r="2.4" fill="#cf8c30"/>
<text x="215.6" y="257.4" font-size="11.2" textLength="29.6" lengthAdjust="spacingAndGlyphs" fill="#222">CLL 3</text>
<circle cx="208.7" cy="264.7" r="2.4" fill="#7a1530"/>
<text x="215.6" y="268.59999999999997" font-size="11.2" textLength="29.6" lengthAdjust="spacingAndGlyphs" fill="#222">CLL 1</text>
<circle cx="208.7" cy="276" r="2.4" fill="#3a2550"/>
<text x="215.6" y="279.9" font-size="11.2" textLength="29.6" lengthAdjust="spacingAndGlyphs" fill="#222">CLL 2</text>
<circle cx="208.7" cy="293.8" r="2.4" fill="#a5ab95"/>
<text x="215.6" y="297.7" font-size="11.2" textLength="29.6" lengthAdjust="spacingAndGlyphs" fill="#222">CLL 4</text>
<circle cx="208.7" cy="305.2" r="2.4" fill="#6a9a4a"/>
<text x="215.6" y="309.09999999999997" font-size="11.2" textLength="29.6" lengthAdjust="spacingAndGlyphs" fill="#222">CLL 6</text>
<circle cx="208.7" cy="316.3" r="2.4" fill="#2e4a3c"/>
<text x="215.6" y="320.2" font-size="11.2" textLength="29.6" lengthAdjust="spacingAndGlyphs" fill="#222">CLL 5</text>
<line x1="253" y1="247.2" x2="253" y2="282.4" stroke="#000" stroke-width="2"/>
<line x1="251.3" y1="288.4" x2="251.3" y2="322" stroke="#000" stroke-width="2"/>
<text x="258.5" y="271.6" font-size="12.2" textLength="31.6" lengthAdjust="spacingAndGlyphs" fill="#222">CD38</text>
<text x="291.4" y="266.4" font-size="8.6" textLength="16.6" lengthAdjust="spacingAndGlyphs" fill="#222">high</text>
<text x="256.5" y="311.6" font-size="12.2" textLength="31.6" lengthAdjust="spacingAndGlyphs" fill="#222">CD38</text>
<text x="289.7" y="306.6" font-size="8.6" textLength="13.2" lengthAdjust="spacingAndGlyphs" fill="#222">low</text>
<text x="320.8" y="206.5" font-size="16.8" font-weight="bold" textLength="12.6" lengthAdjust="spacingAndGlyphs" fill="#000">D</text>
<circle cx="397.3" cy="201" r="2" fill="#8a1030"/>
<text x="404" y="205.6" font-size="11.2" textLength="31.2" lengthAdjust="spacingAndGlyphs" fill="#222">CD38</text>
<text x="436.2" y="200.6" font-size="8.2" textLength="13.8" lengthAdjust="spacingAndGlyphs" fill="#222">high</text>
<circle cx="456.1" cy="201.3" r="2" fill="#6ea04a"/>
<text x="462.1" y="205.6" font-size="11.2" textLength="30.1" lengthAdjust="spacingAndGlyphs" fill="#222">CD38</text>
<text x="493.8" y="200.6" font-size="8.2" textLength="12.1" lengthAdjust="spacingAndGlyphs" fill="#222">low</text>
<line x1="392" y1="213" x2="392" y2="339.6" stroke="#000" stroke-width="2"/>
<line x1="391" y1="338.6" x2="509" y2="338.6" stroke="#000" stroke-width="2"/>
<line x1="387.3" y1="217.8" x2="392" y2="217.8" stroke="#000" stroke-width="1.6"/>
<text x="382.6" y="221.60000000000002" font-size="11" text-anchor="end" textLength="23.8" lengthAdjust="spacingAndGlyphs" fill="#222">0.30</text>
<line x1="387.3" y1="247.99999999999994" x2="392" y2="247.99999999999994" stroke="#000" stroke-width="1.6"/>
<text x="382.6" y="251.79999999999995" font-size="11" text-anchor="end" textLength="23.8" lengthAdjust="spacingAndGlyphs" fill="#222">0.28</text>
<line x1="387.3" y1="278.2" x2="392" y2="278.2" stroke="#000" stroke-width="1.6"/>
<text x="382.6" y="282.0" font-size="11" text-anchor="end" textLength="23.8" lengthAdjust="spacingAndGlyphs" fill="#222">0.26</text>
<line x1="387.3" y1="308.4" x2="392" y2="308.4" stroke="#000" stroke-width="1.6"/>
<text x="382.6" y="312.2" font-size="11" text-anchor="end" textLength="23.8" lengthAdjust="spacingAndGlyphs" fill="#222">0.24</text>
<line x1="387.3" y1="338.59999999999997" x2="392" y2="338.59999999999997" stroke="#000" stroke-width="1.6"/>
<text x="382.6" y="342.4" font-size="11" text-anchor="end" textLength="23.8" lengthAdjust="spacingAndGlyphs" fill="#222">0.22</text>
<line x1="411.6" y1="338.6" x2="411.6" y2="343.2" stroke="#000" stroke-width="1.6"/>
<text x="411.6" y="358" font-size="11" text-anchor="middle" textLength="6" lengthAdjust="spacingAndGlyphs" fill="#222">1</text>
<line x1="450.6" y1="338.6" x2="450.6" y2="343.2" stroke="#000" stroke-width="1.6"/>
<text x="450.6" y="358" font-size="11" text-anchor="middle" textLength="6" lengthAdjust="spacingAndGlyphs" fill="#222">2</text>
<line x1="488.9" y1="338.6" x2="488.9" y2="343.2" stroke="#000" stroke-width="1.6"/>
<text x="488.9" y="358" font-size="11" text-anchor="middle" textLength="6" lengthAdjust="spacingAndGlyphs" fill="#222">3</text>
<text x="423" y="377.1" font-size="12.6" textLength="53.8" lengthAdjust="spacingAndGlyphs" fill="#222" stroke="#222" stroke-width="0.4">Experiments</text>
<text transform="translate(349.3,276.5) rotate(-90)" x="0" y="0" font-size="12.4" text-anchor="middle" textLength="104" lengthAdjust="spacingAndGlyphs" fill="#222" stroke="#222" stroke-width="0.4">Ratio indo1 (basal level)</text>
<text x="398.4" y="222.9" font-size="11.2" fill="#222" font-style="italic"><tspan>n</tspan><tspan x="407.4" font-style="normal" textLength="11" lengthAdjust="spacingAndGlyphs">=</tspan><tspan x="418.5" textLength="12.4" lengthAdjust="spacingAndGlyphs">17</tspan></text>
<text x="398.4" y="239.3" font-size="11.2" fill="#222"><tspan font-style="italic">P</tspan><tspan x="408.4" textLength="11" lengthAdjust="spacingAndGlyphs">=</tspan><tspan x="418.4" textLength="29.8" lengthAdjust="spacingAndGlyphs">0.046</tspan></text>
<circle cx="411.5" cy="263.09999999999997" r="2.3" fill="#7d0e2a"/>
<circle cx="408.5" cy="278.2" r="2.3" fill="#7d0e2a"/>
<circle cx="414.5" cy="278.2" r="2.3" fill="#7d0e2a"/>
<circle cx="411.5" cy="293.3" r="2.3" fill="#6f9a55"/>
<circle cx="408.5" cy="308.4" r="2.3" fill="#6f9a55"/>
<circle cx="414.5" cy="308.4" r="2.3" fill="#6f9a55"/>
<line x1="397.7" y1="272.8" x2="425.3" y2="272.8" stroke="#a0153a" stroke-width="1.6"/>
<line x1="397.7" y1="303.3" x2="425.3" y2="303.3" stroke="#7ab04a" stroke-width="1.6"/>
<circle cx="450.8" cy="263.09999999999997" r="2.3" fill="#7d0e2a"/>
<circle cx="450.8" cy="278.2" r="2.3" fill="#6f9a55"/>
<circle cx="447.8" cy="293.3" r="2.3" fill="#7d0e2a"/>
<circle cx="453.8" cy="293.3" r="2.3" fill="#7d0e2a"/>
<circle cx="447.8" cy="308.4" r="2.3" fill="#6f9a55"/>
<circle cx="453.8" cy="308.4" r="2.3" fill="#6f9a55"/>
<line x1="437.6" y1="282.7" x2="463.7" y2="282.7" stroke="#a0153a" stroke-width="1.6"/>
<line x1="437.6" y1="298" x2="463.7" y2="298" stroke="#7ab04a" stroke-width="1.6"/>
<circle cx="489.1" cy="232.90000000000003" r="2.3" fill="#7d0e2a"/>
<circle cx="486.5" cy="247.99999999999994" r="2.3" fill="#7d0e2a"/>
<circle cx="491.90000000000003" cy="247.99999999999994" r="2.3" fill="#6f9a55"/>
<circle cx="486.1" cy="263.09999999999997" r="2.3" fill="#6f9a55"/>
<circle cx="492.1" cy="263.09999999999997" r="2.3" fill="#6f9a55"/>
<line x1="476.6" y1="239.7" x2="503" y2="239.7" stroke="#a0153a" stroke-width="1.6"/>
<line x1="476.6" y1="257.8" x2="503" y2="257.8" stroke="#7ab04a" stroke-width="1.6"/>
<rect x="1" y="1" width="518" height="389" fill="none" stroke="#000" stroke-width="2"/>
</svg></body></html>
